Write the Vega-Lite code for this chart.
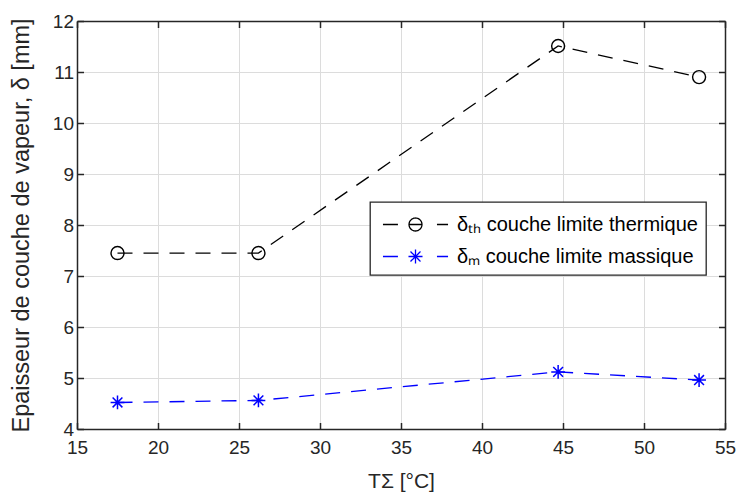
{
  "$schema": "https://vega.github.io/schema/vega-lite/v6.json",
  "width": 648,
  "height": 408,
  "autosize": {"type": "none"},
  "padding": {"left": 77, "top": 21, "right": 11, "bottom": 75},
  "background": "white",
  "config": {
    "view": {"stroke": null},
    "font": "Liberation Sans",
    "axis": {
      "labelFont": "Liberation Sans",
      "titleFont": "Liberation Sans",
      "labelColor": "#262626",
      "titleColor": "#262626",
      "domainColor": "#262626",
      "domainWidth": 1.5,
      "tickColor": "#262626",
      "tickWidth": 1.5,
      "tickSize": -6.5,
      "gridColor": "#dcdcdc",
      "gridWidth": 1,
      "labelFontSize": 19,
      "titleFontSize": 21,
      "titleFontWeight": "normal"
    }
  },
  "data": {
    "values": [
      {"serie": "δₜₕ couche limite thermique", "T": 17.5, "d": 7.45},
      {"serie": "δₜₕ couche limite thermique", "T": 26.2, "d": 7.45},
      {"serie": "δₜₕ couche limite thermique", "T": 44.7, "d": 11.51},
      {"serie": "δₜₕ couche limite thermique", "T": 53.4, "d": 10.9},
      {"serie": "δₘ couche limite massique", "T": 17.5, "d": 4.52},
      {"serie": "δₘ couche limite massique", "T": 26.2, "d": 4.56},
      {"serie": "δₘ couche limite massique", "T": 44.7, "d": 5.12},
      {"serie": "δₘ couche limite massique", "T": 53.4, "d": 4.96}
    ]
  },
  "layer": [
    {
      "mark": {"type": "line", "strokeDash": [15, 11], "strokeWidth": 1.3, "clip": false},
      "encoding": {
        "x": {
          "field": "T", "type": "quantitative",
          "scale": {"domain": [15, 55], "nice": false, "zero": false},
          "axis": {
            "orient": "bottom",
            "values": [15, 20, 25, 30, 35, 40, 45, 50, 55],
            "title": "TΣ [°C]",
            "grid": true,
            "labelPadding": 16,
            "titlePadding": 13,
            "labelFlush": false
          }
        },
        "y": {
          "field": "d", "type": "quantitative",
          "scale": {"domain": [4, 12], "nice": false, "zero": false},
          "axis": {
            "orient": "left",
            "values": [4, 5, 6, 7, 8, 9, 10, 11, 12],
            "title": "Epaisseur de couche de vapeur, δ [mm]",
            "titleFontSize": 23.5,
            "grid": true,
            "labelPadding": 10,
            "titlePadding": 19
          }
        },
        "color": {
          "field": "serie", "type": "nominal",
          "scale": {
            "domain": ["δₜₕ couche limite thermique", "δₘ couche limite massique"],
            "range": ["#000000", "#0000ff"]
          },
          "legend": {
            "orient": "none",
            "legendX": 293,
            "legendY": 181,
            "title": null,
            "direction": "vertical",
            "fillColor": "white",
            "strokeColor": "#262626",
            "padding": 8,
            "cornerRadius": 0,
            "labelFont": "Liberation Sans",
            "labelFontSize": 20,
            "labelColor": "#000000",
            "labelLimit": 400,
            "symbolSize": 729,
            "symbolStrokeWidth": 1.3,
            "symbolDash": [1, 0],
            "symbolFillColor": "transparent",
            "symbolOffset": 23,
            "labelOffset": 27,
            "rowPadding": 7,
            "encode": {
              "legend": {
                "update": {"strokeWidth": {"value": 1.3}}
              },
              "symbols": {
                "update": {
                  "shape": {"signal": "indexof(datum.value, 'thermique') >= 0 ? 'M-2.41,0H-1.3M1.59,0H2.41M-0.48,0H0.48M-0.48,0A0.48,0.48 0 1,0 0.48,0A0.48,0.48 0 1,0 -0.48,0' : 'M-2.41,0H-1.3M1.59,0H2.41M0,-0.52V0.52M-0.52,0H0.52M-0.37,-0.37L0.37,0.37M-0.37,0.37L0.37,-0.37'"},
                  "strokeDash": {"value": [1, 0]},
                  "fill": {"value": "transparent"}
                }
              }
            }
          }
        }
      }
    },
    {
      "transform": [{"filter": "indexof(datum.serie, 'thermique') >= 0"}],
      "mark": {"type": "point", "shape": "circle", "filled": false, "size": 169, "strokeWidth": 1.4, "opacity": 1, "color": "#000000", "clip": false},
      "encoding": {
        "x": {
          "field": "T", "type": "quantitative",
          "axis": {
            "orient": "top",
            "values": [15, 20, 25, 30, 35, 40, 45, 50, 55],
            "labels": false,
            "title": null,
            "grid": false
          }
        },
        "y": {
          "field": "d", "type": "quantitative",
          "axis": {
            "orient": "right",
            "values": [4, 5, 6, 7, 8, 9, 10, 11, 12],
            "labels": false,
            "title": null,
            "grid": false
          }
        }
      }
    },
    {
      "transform": [{"filter": "indexof(datum.serie, 'massique') >= 0"}],
      "mark": {"type": "point", "shape": "M0,-1V1M-1,0H1M-0.71,-0.71L0.71,0.71M-0.71,0.71L0.71,-0.71", "filled": false, "size": 190, "strokeWidth": 1.5, "opacity": 1, "color": "#0000ff", "clip": false},
      "encoding": {
        "x": {"field": "T", "type": "quantitative", "axis": null},
        "y": {"field": "d", "type": "quantitative", "axis": null}
      }
    }
  ],
  "resolve": {"axis": {"x": "independent", "y": "independent"}}
}
